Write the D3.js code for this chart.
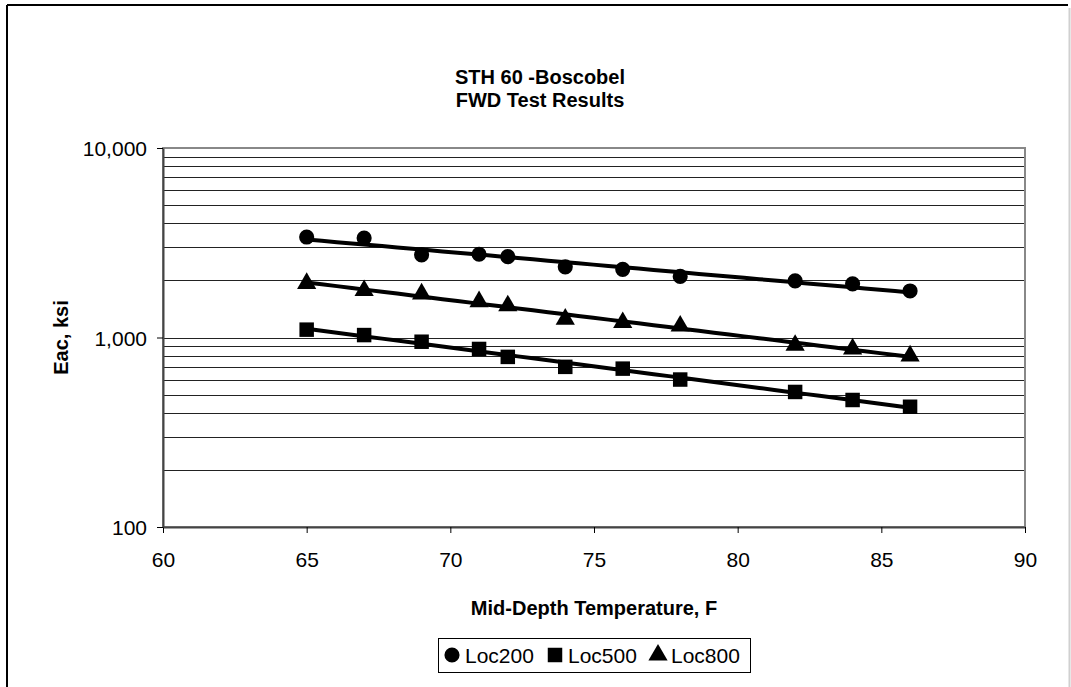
<!DOCTYPE html>
<html><head><meta charset="utf-8">
<script src="https://cdn.jsdelivr.net/npm/d3@7"></script>
<style>
html,body{margin:0;padding:0;background:#fff;}
svg{display:block;font-family:"Liberation Sans",Arial,sans-serif;}
</style></head>
<body><svg id="c" width="1071" height="687"></svg>
<script>
const temps = [65, 67, 69, 71, 72, 74, 76, 78, 82, 84, 86];
const loc200 = [3390, 3350, 2730, 2750, 2670, 2360, 2290, 2100, 1990, 1920, 1760];
const loc500 = [1100, 1030, 950, 870, 790, 700, 685, 600, 516, 468, 431];
const loc800 = [1930, 1770, 1700, 1545, 1470, 1250, 1200, 1150, 910, 870, 800];
const seriesNames = ["Loc200", "Loc500", "Loc800"];
const seriesShapes = ["circle", "square", "triangle"];
const xTicks = [60, 65, 70, 75, 80, 85, 90];
const yTicks = [100, 1000, 10000];
const yTickLabels = ["100", "1,000", "10,000"];
const titleLines = ["STH 60 -Boscobel", "FWD Test Results"];
const xTitle = "Mid-Depth Temperature, F";
const yTitle = "Eac, ksi";

const series = [loc200, loc500, loc800];
const svg = d3.select("#c");
const L = 163, R = 1025, T = 148, B = 527;
const x = d3.scaleLinear().domain([60, 90]).range([L, R]);
const y = d3.scaleLog().domain([100, 10000]).range([B, T]);

// outer frame
svg.append("line").attr("x1",7).attr("x2",1068).attr("y1",5).attr("y2",5).attr("stroke","#000").attr("stroke-width",2);
svg.append("line").attr("x1",7).attr("x2",7).attr("y1",5).attr("y2",687).attr("stroke","#000").attr("stroke-width",2);
svg.append("line").attr("x1",1069.5).attr("x2",1069.5).attr("y1",8).attr("y2",687).attr("stroke","#d0d0d0").attr("stroke-width",2);

// gridlines (all log minor values)
const gridVals = [];
for (let d = 100; d < 10000; d *= 10) for (let k = 1; k <= 9; k++) if (d*k > 100) gridVals.push(d*k);
svg.append("g").selectAll("line").data(gridVals).join("line")
  .attr("x1", L).attr("x2", R)
  .attr("y1", d => Math.round(y(d)) + 0.5).attr("y2", d => Math.round(y(d)) + 0.5)
  .attr("stroke", d => (d === 10000) ? "#888" : "#222").attr("stroke-width", 1);

// plot border
svg.append("rect").attr("x", L).attr("y", T).attr("width", R - L).attr("height", B - T)
  .attr("fill", "none").attr("stroke", "#888").attr("stroke-width", 2);

// axes
const xAxis = d3.axisBottom(x).tickValues(xTicks).tickSize(6).tickSizeOuter(0).tickFormat(d3.format("d"));
const gx = svg.append("g").attr("transform", `translate(0,${B})`).call(xAxis);
gx.select(".domain").attr("stroke", "#444").attr("stroke-width", 2);
gx.selectAll(".tick line").attr("stroke", "#000");
gx.selectAll(".tick text").attr("font-size", 21).attr("fill", "#000").attr("dy", "0").attr("y", 40)
  .attr("font-family", "Liberation Sans, Arial, sans-serif");

const yAxis = d3.axisLeft(y).tickValues(yTicks).tickSize(6).tickSizeOuter(0).tickFormat((d, i) => yTickLabels[i]);
const gy = svg.append("g").attr("transform", `translate(${L},0)`).call(yAxis);
gy.select(".domain").attr("stroke", "#444").attr("stroke-width", 2);
gy.selectAll(".tick line").attr("stroke", "#000");
gy.selectAll(".tick text").attr("font-size", 21).attr("fill", "#000").attr("x", -16).attr("dy", "0.36em")
  .attr("font-family", "Liberation Sans, Arial, sans-serif");

// trend lines (exponential least-squares fit of each series)
function expFit(xs, ys) {
  const n = xs.length;
  const lx = xs, ly = ys.map(Math.log);
  const mx = d3.mean(lx), my = d3.mean(ly);
  let num = 0, den = 0;
  for (let i = 0; i < n; i++) { num += (lx[i]-mx)*(ly[i]-my); den += (lx[i]-mx)**2; }
  const b = num/den, a = my - b*mx;
  return t => Math.exp(a + b*t);
}
const xMin = d3.min(temps), xMax = d3.max(temps);
series.forEach(s => {
  const f = expFit(temps, s);
  const pts = d3.range(0, 41).map(i => xMin + (xMax - xMin) * i / 40);
  svg.append("path").datum(pts)
    .attr("d", d3.line().x(t => x(t)).y(t => y(f(t))))
    .attr("fill", "none").attr("stroke", "#000").attr("stroke-width", 4);
});

// markers
const sym = {
  circle: d3.symbol().type(d3.symbolCircle).size(180),
  square: d3.symbol().type(d3.symbolSquare).size(210),
  triangle: d3.symbol().type(d3.symbolTriangle).size(160)
};
series.forEach((s, si) => {
  svg.append("g").selectAll("path").data(temps.map((t, i) => [t, s[i]])).join("path")
    .attr("transform", d => `translate(${x(d[0])},${y(d[1])})`)
    .attr("d", sym[seriesShapes[si]]())
    .attr("fill", "#000");
});

// titles
svg.append("g").selectAll("text").data(titleLines).join("text")
  .attr("x", 540).attr("y", (d, i) => 84 + i * 23)
  .attr("text-anchor", "middle").attr("font-weight", "bold").attr("font-size", 20).text(d => d);

svg.append("text").attr("x", (L + R) / 2).attr("y", 615).attr("text-anchor", "middle")
  .attr("font-weight", "bold").attr("font-size", 20).text(xTitle);

svg.append("text").attr("transform", `translate(68,${(y(1000))}) rotate(-90)`)
  .attr("text-anchor", "middle").attr("font-weight", "bold").attr("font-size", 20).text(yTitle);

// legend
const lg = svg.append("g");
lg.append("rect").attr("x", 438.5).attr("y", 638.5).attr("width", 312).attr("height", 34)
  .attr("fill", "#fff").attr("stroke", "#000").attr("stroke-width", 1);
const legX = [452, 555, 658];
seriesNames.forEach((nm, i) => {
  lg.append("path").attr("transform", `translate(${legX[i]},${655})`)
    .attr("d", sym[seriesShapes[i]]()).attr("fill", "#000");
  lg.append("text").attr("x", legX[i] + 13).attr("y", 663).attr("font-size", 21).text(nm);
});
</script>
</body></html>
